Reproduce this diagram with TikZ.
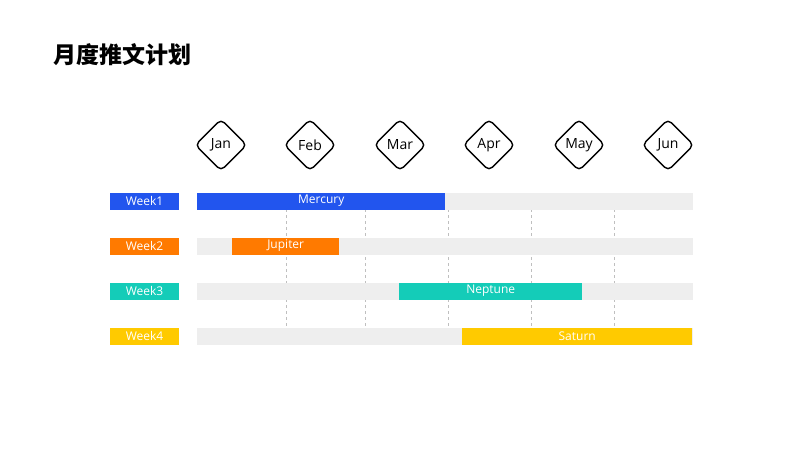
\documentclass[tikz,border=0pt]{standalone}
\usepackage{fontspec}
\setmainfont{Open Sans}
\newfontfamily\cjk{Noto Sans CJK SC}
\usetikzlibrary{shapes.geometric,positioning}
\definecolor{cblue}{HTML}{2255EE}
\definecolor{corange}{HTML}{FF7A00}
\definecolor{cteal}{HTML}{14CCB8}
\definecolor{cyellow}{HTML}{FFCA00}
\definecolor{ctrack}{HTML}{EEEEEE}
\tikzset{
  monthbox/.style={draw=black, line width=1.4pt, diamond, rounded corners=5pt, minimum width=52pt, minimum height=52pt, inner sep=0pt, font=\fontsize{14}{14}\selectfont},
  weekbox/.style={fill=#1, text=white, minimum width=69pt, minimum height=17pt, inner sep=0pt, font=\fontsize{12}{12}\selectfont},
  taskbar/.style={fill=#1, text=white, minimum height=17pt, inner sep=0pt, font=\fontsize{12}{12}\selectfont, anchor=west},
}
\begin{document}
\begin{tikzpicture}[x=1pt,y=-1pt]
      \useasboundingbox (0,0) rectangle (800,450);
      % Title
      \node[anchor=west, font=\cjk\bfseries\fontsize{23}{23}\selectfont] (title) at (50,55) {月度推文计划};
      % Months
      \foreach \m/\x in {Jan/221,Feb/310,Mar/400,Apr/489,May/579,Jun/668}
        \node[monthbox] (m\m) at (\x,145) {\m};
      % Grid lines
      \foreach \x in {286,365,448,531,614}
        \draw[gray!50, dashed, line width=0.6pt] (\x,209) -- (\x,328);
      % Tracks and week labels
      \foreach \i/\y/\c in {1/201/cblue,2/246/corange,3/291/cteal,4/336/cyellow} {
        \fill[ctrack] (197,\y-8.5) rectangle (693,\y+8.5);
        \node[weekbox=\c] (w\i) at (144.5,\y) {Week\i};
      }
      % Tasks
      \node[taskbar=cblue, minimum width=248pt] (t1) at (197,201) {Mercury};
      \node[taskbar=corange, minimum width=107pt] (t2) at (232,246) {Jupiter};
      \node[taskbar=cteal, minimum width=183pt] (t3) at (399,291) {Neptune};
      \node[taskbar=cyellow, minimum width=230pt] (t4) at (462,336) {Saturn};
\end{tikzpicture}
\end{document}
